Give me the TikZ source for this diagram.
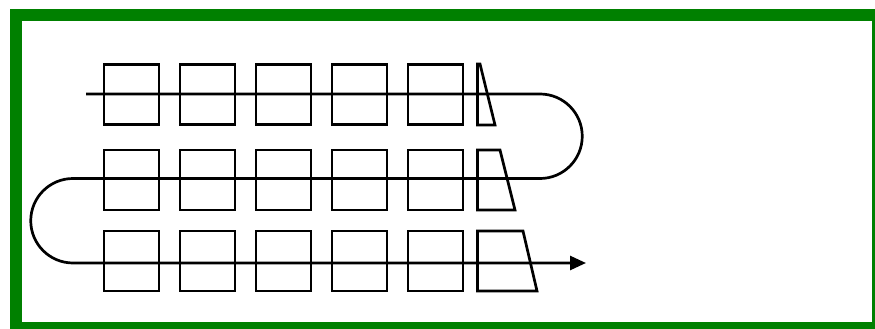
\documentclass[tikz,border=0pt]{standalone}
\usepackage{tikz}
\usetikzlibrary{arrows.meta,positioning}
\definecolor{framegreen}{RGB}{0,128,0}
\tikzset{
  cellbox/.style={
    rectangle, draw=black, line width=2.7pt,
    minimum width=55pt, minimum height=60pt, inner sep=0pt
  },
  wedgebox/.style={draw=black, line width=2.7pt, line join=miter},
  feedline/.style={-{Triangle[length=16pt,width=14pt]}, line width=2.7pt, draw=black},
  framebox/.style={draw=framegreen, line width=12pt},
}

\begin{document}
\begin{tikzpicture}[x=1pt, y=-1pt, node distance=18.3pt]
  \useasboundingbox (0,0) rectangle (875,329);
  \clip (0,0) rectangle (875,329);
  \draw[framebox] (16,15.5) rectangle (878,328);
  % top row
  \node (t1) [cellbox] at (131.5,94.5) {};
  \node (t2) [cellbox, right=of t1] {}; \node (t3) [cellbox, right=of t2] {};
  \node (t4) [cellbox, right=of t3] {}; \node (t5) [cellbox, right=of t4] {};
  % middle row
  \node (m1) [cellbox] at (131.5,180) {};
  \node (m2) [cellbox, right=of m1] {}; \node (m3) [cellbox, right=of m2] {};
  \node (m4) [cellbox, right=of m3] {}; \node (m5) [cellbox, right=of m4] {};
  % bottom row
  \node (b1) [cellbox] at (131.5,261) {};
  \node (b2) [cellbox, right=of b1] {}; \node (b3) [cellbox, right=of b2] {};
  \node (b4) [cellbox, right=of b3] {}; \node (b5) [cellbox, right=of b4] {};
  % slanted pieces at the row ends
  \draw[wedgebox] (477.5,64) -- (480,64) -- (495,125) -- (477.5,125) -- cycle;
  \draw[wedgebox] (477.5,150) -- (500,150) -- (515,210) -- (477.5,210) -- cycle;
  \draw[wedgebox] (477.5,231) -- (523,231) -- (537,291) -- (477.5,291) -- cycle;
  \coordinate (start) at (86,94);
  \coordinate (finish) at (586,263);
  \draw[feedline] (start) -- (540,94)
    arc[start angle=-90, end angle=90, radius=42.25] -- (73,178.5)
    arc[start angle=-90, end angle=-270, radius=42.25] -- (finish);
\end{tikzpicture}
\end{document}
